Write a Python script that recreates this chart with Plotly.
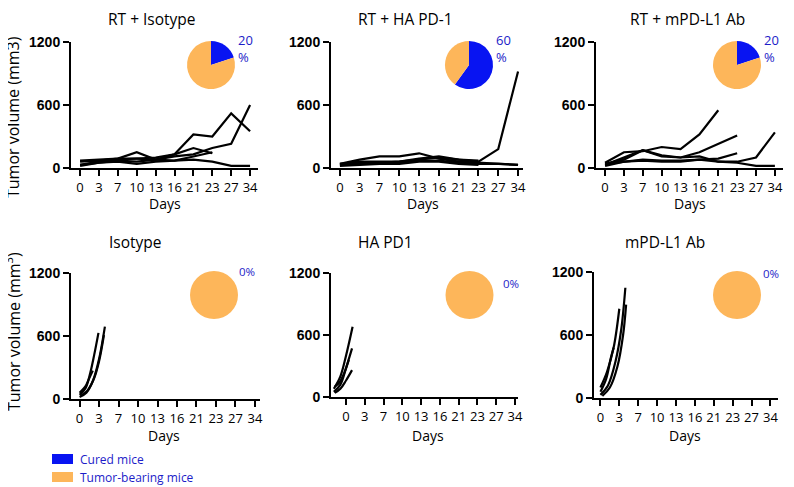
import plotly.graph_objects as go

W, H = 794, 487

# ---------------- data ----------------
day_labels = ["0", "3", "7", "10", "13", "16", "21", "23", "27", "34"]
day_pos = list(range(10))

panel_titles = ["RT + Isotype", "RT + HA PD-1", "RT + mPD-L1 Ab", "Isotype", "HA PD1", "mPD-L1 Ab"]
cured_pct = [20, 60, 20, 0, 0, 0]
pct_labels = ["20<br>%", "60<br>%", "20<br>%", "0%", "0%", "0%"]

rt_isotype = [
    [30, 60, 80, 90, 100, 130, 320, 300, 520, 350],
    [20, 50, 70, 60, 80, 110, 130, 190, 230, 600],
    [60, 70, 90, 150, 80, 130, 190, 140],
    [70, 80, 90, 90, 80, 70, 80, 60, 20, 20],
    [30, 50, 60, 40, 60, 70, 110, 150],
]
rt_hapd1 = [
    [40, 60, 60, 60, 80, 100, 80, 60, 180, 920],
    [40, 80, 110, 110, 140, 90, 60, 50, 40, 30],
    [30, 50, 50, 60, 90, 110, 80, 70],
    [30, 40, 40, 50, 70, 70, 50, 40, 40, 30],
    [20, 30, 40, 40, 60, 60, 40, 30],
]
rt_mpdl1 = [
    [50, 150, 160, 200, 180, 320, 550],
    [30, 100, 170, 120, 100, 150, 230, 310],
    [40, 60, 80, 70, 70, 80, 60, 60, 100, 340],
    [20, 60, 70, 60, 60, 80, 90, 140],
    [40, 80, 170, 110, 100, 110, 60, 50, 20, 20],
]

iso_x = [[0, 0.3, 0.55, 0.75, 0.97], [0, 0.35, 0.7, 1.0, 1.3], [0.05, 0.4, 0.75, 1.0, 1.25], [0, 0.3, 0.5, 0.68]]
iso_y = [[40, 100, 250, 420, 630], [20, 60, 180, 380, 690], [30, 80, 200, 360, 610], [60, 120, 200, 270]]

ha_x = [[-0.65, -0.3, 0, 0.35], [-0.65, -0.3, 0, 0.32], [-0.6, -0.3, 0, 0.32], [-0.6, -0.35, -0.1, 0.15]]
ha_y = [[80, 200, 400, 680], [50, 120, 280, 470], [40, 80, 160, 260], [100, 140, 230, 360]]

mp_x = [[0, 0.4, 0.8, 1.1, 1.32], [0, 0.35, 0.7, 1.0], [0.1, 0.5, 0.9, 1.2, 1.36], [0, 0.3, 0.55, 0.7]]
mp_y = [[30, 120, 350, 650, 1050], [100, 250, 480, 850], [20, 100, 300, 600, 890], [60, 180, 380, 480]]

legend_labels = ["Cured mice", "Tumor-bearing mice"]
BLUE = "#0814f2"
ORANGE = "#fdb65a"
TXTBLUE = "#1c1cc8"

# ---------------- layout helpers ----------------
OFF = 8  # page body margin in the rendered page

def fx(px):
    return (px - OFF) / W

def fy(py):
    return 1 - (py - OFF) / H

panels = [
    dict(xd=(71, 258), xr=(-0.48, 9.42), yd=(42, 168)),
    dict(xd=(331, 523), xr=(-0.45, 9.25), yd=(42, 168)),
    dict(xd=(596, 783), xr=(-0.48, 9.43), yd=(42, 168)),
    dict(xd=(71, 260), xr=(-0.44, 9.26), yd=(273, 399)),
    dict(xd=(331, 518), xr=(-0.8, 9.16), yd=(273, 397)),
    dict(xd=(594, 778), xr=(-0.34, 9.4), yd=(272, 398)),
]
pie_boxes = [(211, 65), (469, 65), (737, 65), (214, 295), (469.5, 295), (737, 295)]
pie_r = 24
pct_pos = [(236, 48, 13), (494, 48, 13), (762, 48, 13), (237, 271, 11.5), (501, 283, 11.5), (761, 273, 11.5)]
title_pos = [(152, 19), (405, 19), (687, 19), (135, 242), (385, 242), (665, 242)]
days_pos = [(165, 203), (423, 203), (690, 203), (164, 435), (428, 435), (685, 435)]

fig = go.Figure()

line_style = dict(color="black", width=2.2)

def add_lines(idx, xs_list, ys_list, shape="linear"):
    ax = "" if idx == 0 else str(idx + 1)
    for xs, ys in zip(xs_list, ys_list):
        fig.add_trace(go.Scatter(x=xs, y=ys, mode="lines", line=dict(line_style, shape=shape),
                                 xaxis="x" + ax, yaxis="y" + ax, showlegend=False, hoverinfo="skip"))

for i, series in enumerate([rt_isotype, rt_hapd1, rt_mpdl1]):
    add_lines(i, [day_pos[:len(s)] for s in series], series)
add_lines(3, iso_x, iso_y, "spline")
add_lines(4, ha_x, ha_y, "spline")
add_lines(5, mp_x, mp_y, "spline")

for i, p in enumerate(cured_pct):
    cx, cy = pie_boxes[i]
    fig.add_trace(go.Pie(values=[p, 100 - p], labels=legend_labels, sort=False, direction="clockwise",
                         rotation=0, marker=dict(colors=[BLUE, ORANGE], line=dict(width=0)),
                         textinfo="none", hoverinfo="skip", showlegend=False, automargin=False,
                         domain=dict(x=[fx(cx - pie_r), fx(cx + pie_r)], y=[fy(cy + pie_r), fy(cy - pie_r)])))

layout = dict(width=W, height=H, autosize=False,
              margin=dict(l=0, r=0, t=0, b=0, autoexpand=False),
              paper_bgcolor="white", plot_bgcolor="white", showlegend=False)

for i, p in enumerate(panels):
    ax = "" if i == 0 else str(i + 1)
    layout["xaxis" + ax] = dict(
        domain=[fx(p["xd"][0]), fx(p["xd"][1])], range=list(p["xr"]), anchor="y" + ax,
        tickmode="array", tickvals=day_pos, ticktext=day_labels, automargin=False,
        showline=True, linecolor="black", linewidth=2, ticks="outside", ticklen=6, tickwidth=2,
        tickcolor="black", showgrid=False, zeroline=False,
        tickfont=dict(family="Open Sans", size=13, color="black"), fixedrange=True)
    layout["yaxis" + ax] = dict(
        domain=[fy(p["yd"][1]), fy(p["yd"][0])], range=[0, 1200], anchor="x" + ax,
        tickmode="array", tickvals=[0, 600, 1200], ticktext=["0", "600", "1200"], automargin=False,
        showline=True, linecolor="black", linewidth=2, ticks="outside", ticklen=6, tickwidth=2,
        tickcolor="black", showgrid=False, zeroline=False,
        tickfont=dict(family="Liberation Sans", size=14, color="black", weight="bold"), fixedrange=True)

annotations = []
for i, t in enumerate(panel_titles):
    x, y = title_pos[i]
    annotations.append(dict(text=t, x=fx(x), y=fy(y), xref="paper", yref="paper", showarrow=False,
                            xanchor="center", yanchor="middle",
                            font=dict(family="Open Sans", size=15.5, color="black")))
for i, (x, y) in enumerate(days_pos):
    annotations.append(dict(text="Days", x=fx(x), y=fy(y), xref="paper", yref="paper", showarrow=False,
                            xanchor="center", yanchor="middle",
                            font=dict(family="Open Sans", size=14, color="black")))
for i, lab in enumerate(pct_labels):
    x, y, s = pct_pos[i]
    annotations.append(dict(text=lab, x=fx(x), y=fy(y), xref="paper", yref="paper", showarrow=False,
                            xanchor="left", yanchor="middle", align="left",
                            font=dict(family="Open Sans", size=s, color=TXTBLUE)))
annotations.append(dict(text="Tumor volume (mm3)", x=fx(13), y=fy(117), xref="paper", yref="paper",
                        showarrow=False, textangle=-90, xanchor="center", yanchor="middle",
                        font=dict(family="Open Sans", size=16, color="black")))
annotations.append(dict(text="Tumor volume (mm<sup>3</sup>)", x=fx(13), y=fy(332), xref="paper", yref="paper",
                        showarrow=False, textangle=-90, xanchor="center", yanchor="middle",
                        font=dict(family="Open Sans", size=16, color="black")))

shapes = []
for j, (lab, col) in enumerate(zip(legend_labels, [BLUE, ORANGE])):
    y0 = 454 + j * 18
    shapes.append(dict(type="rect", xref="paper", yref="paper", x0=fx(52), x1=fx(73), y0=fy(y0 + 10), y1=fy(y0),
                       fillcolor=col, line=dict(width=0)))
    annotations.append(dict(text=lab, x=fx(78), y=fy(y0 + 5), xref="paper", yref="paper", showarrow=False,
                            xanchor="left", yanchor="middle",
                            font=dict(family="Open Sans", size=12, color=TXTBLUE)))
shapes.append(dict(type="line", xref="paper", yref="paper", x0=fx(790), x1=fx(790), y0=fy(170), y1=fy(32),
                   line=dict(color="#e2e2e2", width=1)))

layout["annotations"] = annotations
layout["shapes"] = shapes
fig.update_layout(**layout)
fig.write_html("out.html")
